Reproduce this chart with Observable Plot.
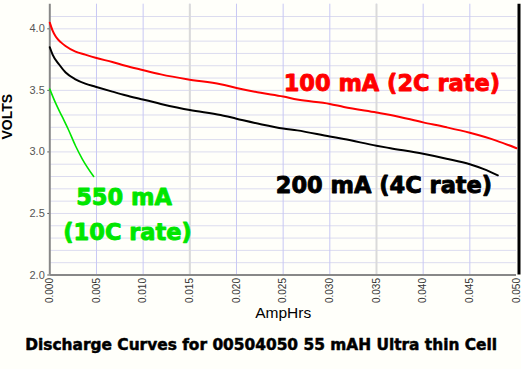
<!DOCTYPE html>
<html>
<head>
<meta charset="utf-8">
<script src="https://cdn.jsdelivr.net/npm/d3@7"></script>
<script src="https://cdn.jsdelivr.net/npm/@observablehq/plot@0.6"></script>
<style>
  html, body { margin: 0; padding: 0; background: #fffffa; }
  #chart svg { display: block; }
</style>
</head>
<body>
<div id="chart"></div>
<script>
// ---- data (AmpHrs, Volts) ----
const red100mA_x = [0, 0.0003, 0.00065, 0.0012, 0.00168, 0.00275, 0.0038, 0.0049, 0.0067, 0.0081, 0.0097, 0.0119, 0.0147, 0.0183, 0.020, 0.0226, 0.025, 0.0265, 0.030, 0.0315, 0.035, 0.0365, 0.040, 0.0425, 0.045, 0.0479, 0.050];
const red100mA_v = [4.05, 3.985, 3.935, 3.89, 3.86, 3.815, 3.79, 3.765, 3.73, 3.70, 3.67, 3.63, 3.59, 3.55, 3.52, 3.48, 3.45, 3.425, 3.39, 3.365, 3.32, 3.30, 3.24, 3.20, 3.155, 3.09, 3.03];

const black200mA_x = [0, 0.0003, 0.001, 0.0017, 0.00275, 0.0038, 0.0049, 0.0067, 0.0081, 0.0097, 0.0119, 0.015, 0.0183, 0.020, 0.0226, 0.025, 0.0265, 0.030, 0.0315, 0.035, 0.0365, 0.040, 0.0425, 0.045, 0.0465, 0.048];
const black200mA_v = [3.85, 3.79, 3.71, 3.645, 3.59, 3.555, 3.53, 3.49, 3.46, 3.43, 3.39, 3.34, 3.30, 3.27, 3.225, 3.19, 3.175, 3.125, 3.105, 3.05, 3.03, 2.985, 2.945, 2.90, 2.86, 2.81];

const green550mA_x = [0, 0.0006, 0.0013, 0.002, 0.00275, 0.0035, 0.0047];
const green550mA_v = [3.51, 3.40, 3.29, 3.18, 3.05, 2.94, 2.80];

// ---- ticks ----
const xTicks = [0, 0.005, 0.010, 0.015, 0.020, 0.025, 0.030, 0.035, 0.040, 0.045, 0.050];
const yTicks = [2.0, 2.5, 3.0, 3.5, 4.0];
const yGrid = [2.1, 2.2, 2.3, 2.4, 2.5, 2.6, 2.7, 2.8, 2.9, 3.0, 3.1, 3.2, 3.3, 3.4, 3.5, 3.6, 3.7, 3.8, 3.9, 4.0, 4.1];
const xGrid = [0.005, 0.010, 0.015, 0.020, 0.025, 0.030, 0.035, 0.040, 0.045];
const xGridGrey = [0.015, 0.035];

// ---- annotations (data units) ----
const labelText = ["100 mA (2C rate)", "200 mA (4C rate)", "550 mA", "(10C rate)"];
const labelX = [0.03664, 0.0358, 0.00795, 0.00833];
const labelY = [3.557, 2.726, 2.625, 2.341];
const labelColor = ["#ff0000", "#000000", "#00e600", "#00e600"];

const title = "Discharge Curves for 00504050 55 mAH Ultra thin Cell";
const xLabel = "AmpHrs";
const yLabel = "VOLTS";

const toRows = (xs, vs) => xs.map((x, i) => ({x, v: vs[i]}));
const redRows = toRows(red100mA_x, red100mA_v);
const blackRows = toRows(black200mA_x, black200mA_v);
const greenRows = toRows(green550mA_x, green550mA_v);
const labels = labelText.map((t, i) => ({t, x: labelX[i], y: labelY[i], c: labelColor[i]}));

const plot = Plot.plot({
  width: 521,
  height: 369,
  marginTop: 3.7,
  marginLeft: 49.3,
  marginRight: 5,
  marginBottom: 94.5,
  style: {background: "#fffffa", fontFamily: "'Liberation Sans', Arial, sans-serif", fontSize: "11px", overflow: "visible"},
  x: {domain: [0, 0.05], ticks: xTicks, tickFormat: d3.format(".3f"), tickRotate: -90, tickSize: 0, tickPadding: 3, label: null},
  y: {domain: [2.0, 4.2], ticks: yTicks, tickFormat: d3.format(".1f"), tickSize: 2, tickPadding: 3, label: null},
  marks: [
    Plot.ruleY(yGrid, {stroke: "#dcdcef", strokeWidth: 1}),
    Plot.ruleX(xGrid, {stroke: "#c8c8f4", strokeWidth: 1}),
    Plot.ruleX(xGridGrey, {stroke: "#dadada", strokeWidth: 2}),
    Plot.ruleX([0], {stroke: "#888888", strokeWidth: 2}),
    Plot.ruleY([2.0], {stroke: "#888888", strokeWidth: 2}),
    Plot.ruleX([0.05], {stroke: "#000000", strokeWidth: 3, dx: 2.5}),
    Plot.line(redRows, {x: "x", y: "v", stroke: "#ff0000", strokeWidth: 2, curve: "monotone-x"}),
    Plot.line(blackRows, {x: "x", y: "v", stroke: "#000000", strokeWidth: 2, curve: "monotone-x"}),
    Plot.line(greenRows, {x: "x", y: "v", stroke: "#00e600", strokeWidth: 1.6, curve: "monotone-x"}),
    Plot.text(labels, {x: "x", y: "y", text: "t", fill: "c", stroke: "c", strokeWidth: 0.9, fontFamily: "'DejaVu Sans', Verdana, sans-serif", fontWeight: "bold", fontSize: 22.5}),
    Plot.text([xLabel], {frameAnchor: "bottom", dy: 43, fontSize: 15.5, fill: "#000"}),
    Plot.text([title], {frameAnchor: "bottom", dx: -22, dy: 75, fontFamily: "'DejaVu Sans', Verdana, sans-serif", fontWeight: "bold", fontSize: 15.4, fill: "#000", stroke: "#000", strokeWidth: 0.5}),
    Plot.text([yLabel], {frameAnchor: "left", dx: -41.8, rotate: -90, fontWeight: "bold", fontSize: 14, fill: "#000"})
  ]
});

const svg = d3.select(plot);
svg.selectAll('g[aria-label^="x-axis"]').attr("font-size", "10px").attr("fill", "#333").style("color", "#333");
svg.selectAll('g[aria-label^="y-axis"]').attr("font-size", "11px").attr("fill", "#555").style("color", "#555");
document.getElementById("chart").append(plot);
</script>
</body>
</html>
